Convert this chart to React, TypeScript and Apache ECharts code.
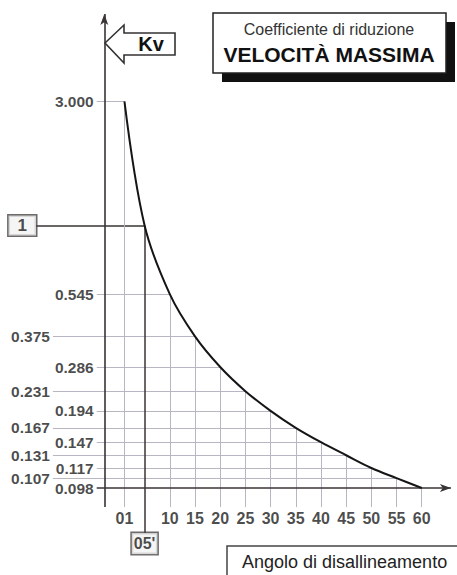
import React, { useEffect, useRef } from "react";
import * as echarts from "echarts";

// ---- data ----
const angles = [1, 5, 10, 15, 20, 25, 30, 35, 40, 45, 50, 55, 60];
const angleLabels = ["01", "05'", "10", "15", "20", "25", "30", "35", "40", "45", "50", "55", "60"];
const kv = [3.0, 1, 0.545, 0.375, 0.286, 0.231, 0.194, 0.167, 0.147, 0.131, 0.117, 0.107, 0.098];
const kvLabels = ["3.000", "1", "0.545", "0.375", "0.286", "0.231", "0.194", "0.167", "0.147", "0.131", "0.117", "0.107", "0.098"];
const kvColumn = ["right", "box", "right", "left", "right", "left", "right", "left", "right", "left", "right", "left", "right"];

// ---- axis extents (data units) ----
const X_MIN = -23.7;
const X_MAX = 67;
const Y_MIN = 0.0454;
const Y_MAX = 7.359;
const AXIS_X = -3; // where the vertical axis stands
const AXIS_Y_BOTTOM = 0.0828;
const AXIS_Y_TOP = 6.5;
const X_AXIS_START = -4.5;
const X_AXIS_END = 65.8;
const RIGHT_COL = -4.5;
const LEFT_COL = -13.2;
const BOX_COL = -16.55;
const TICK_BOX_TOP = 0.0658;

const NUM_FONT = '"Liberation Sans", Arial, sans-serif';
const TXT_FONT = '"Liberation Sans", Arial, sans-serif';

const lightStyle = { color: "#b8b6c2", width: 1, type: "solid" };
const darkStyle = { color: "#3a3434", width: 1.5, type: "solid" };
const axisStyle = { color: "#3a3434", width: 1.6, type: "solid" };

function buildOption() {
  const kvMin = kv[kv.length - 1];
  const lines: any[] = [];
  kv.forEach((v, i) => {
    if (i === kv.length - 1) return;
    const col = kvColumn[i];
    const startX = col === "left" ? LEFT_COL : col === "box" ? BOX_COL : RIGHT_COL;
    lines.push([
      { coord: [startX, v], lineStyle: col === "box" ? darkStyle : lightStyle },
      { coord: [angles[i], v] },
    ]);
  });
  angles.forEach((a, i) => {
    const isBox = angleLabels[i].endsWith("'");
    lines.push([
      { coord: [a, isBox ? TICK_BOX_TOP : AXIS_Y_BOTTOM], lineStyle: isBox ? darkStyle : lightStyle },
      { coord: [a, kv[i]] },
    ]);
  });
  lines.push([
    { coord: [AXIS_X, AXIS_Y_BOTTOM], lineStyle: axisStyle },
    { coord: [AXIS_X, AXIS_Y_TOP], symbol: "arrow", symbolSize: [6, 11] },
  ]);
  lines.push([
    { coord: [X_AXIS_START, kvMin], lineStyle: axisStyle },
    { coord: [X_AXIS_END, kvMin], symbol: "arrow", symbolSize: [6, 11] },
  ]);

  const boxLabel = {
    borderColor: "#4a4545",
    borderWidth: 1.5,
    backgroundColor: "#f3f3f3",
    lineHeight: 19,
  };
  const baseLabel = {
    show: true,
    fontFamily: NUM_FONT,
    fontWeight: "bold",
    fontSize: 15.5,
    color: "#1c1c1c",
  };

  const labelPoints: any[] = [];
  kv.forEach((v, i) => {
    const col = kvColumn[i];
    if (col === "box") {
      labelPoints.push({
        value: [BOX_COL, v],
        label: { ...baseLabel, ...boxLabel, fontSize: 17, position: "left", distance: 0, padding: [1, 9, 0, 9], formatter: kvLabels[i] },
      });
    } else {
      labelPoints.push({
        value: [col === "left" ? LEFT_COL : RIGHT_COL, v],
        label: { ...baseLabel, position: "left", distance: 3, formatter: kvLabels[i] },
      });
    }
  });
  angles.forEach((a, i) => {
    const isBox = angleLabels[i].endsWith("'");
    if (isBox) {
      labelPoints.push({
        value: [a, TICK_BOX_TOP],
        label: { ...baseLabel, ...boxLabel, fontSize: 16, position: "bottom", distance: 0, padding: [1, 2, 1, 2], formatter: angleLabels[i] },
      });
    } else {
      labelPoints.push({
        value: [a, AXIS_Y_BOTTOM],
        label: { ...baseLabel, fontSize: 16, lineHeight: 18, position: "bottom", distance: 2, formatter: angleLabels[i] },
      });
    }
  });

  return {
    animation: false,
    backgroundColor: "#ffffff",
    grid: { left: 0, right: 0, top: 0, bottom: 0 },
    xAxis: { type: "value", min: X_MIN, max: X_MAX, show: false },
    yAxis: { type: "log", min: Y_MIN, max: Y_MAX, show: false },
    series: [
      {
        type: "line",
        data: angles.map((a, i) => [a, kv[i]]),
        smooth: 0.35,
        symbol: "none",
        clip: false,
        z: 5,
        lineStyle: { color: "#151515", width: 2 },
        markLine: {
          silent: true,
          symbol: ["none", "none"],
          label: { show: false },
          animation: false,
          data: lines,
        },
      },
      {
        type: "scatter",
        symbolSize: 0,
        silent: true,
        z: 6,
        data: labelPoints,
      },
    ],
    graphic: [
      {
        type: "polygon",
        shape: { points: [[105, 43], [124, 25], [124, 33], [175, 33], [175, 55], [124, 55], [124, 63]] },
        style: { fill: "#ffffff", stroke: "#333", lineWidth: 1.6 },
      },
      {
        type: "text",
        x: 151,
        y: 44,
        style: {
          text: "Kv",
          fontSize: 20,
          fontWeight: "bold",
          fontFamily: TXT_FONT,
          fill: "#111",
          align: "center",
          verticalAlign: "middle",
          textAlign: "center",
          textVerticalAlign: "middle",
        },
      },
      {
        type: "rect",
        shape: { x: 222, y: 22, width: 233, height: 60 },
        style: { fill: "#111" },
      },
      {
        type: "rect",
        shape: { x: 213, y: 13, width: 233, height: 60 },
        style: { fill: "#ffffff", stroke: "#222", lineWidth: 1.5 },
      },
      {
        type: "text",
        x: 329,
        y: 29,
        style: {
          text: "Coefficiente di riduzione",
          fontSize: 16,
          fontFamily: TXT_FONT,
          fill: "#333",
          align: "center",
          verticalAlign: "middle",
          textAlign: "center",
          textVerticalAlign: "middle",
        },
      },
      {
        type: "text",
        x: 329,
        y: 54,
        style: {
          text: "VELOCITÀ MASSIMA",
          fontSize: 21,
          fontWeight: "bold",
          fontFamily: TXT_FONT,
          fill: "#111",
          align: "center",
          verticalAlign: "middle",
          textAlign: "center",
          textVerticalAlign: "middle",
        },
      },
      {
        type: "rect",
        shape: { x: 227, y: 546, width: 260, height: 40 },
        style: { fill: "#ffffff", stroke: "#444", lineWidth: 1.5 },
      },
      {
        type: "text",
        x: 242,
        y: 562,
        style: {
          text: "Angolo di disallineamento",
          fontSize: 18,
          fontFamily: TXT_FONT,
          fill: "#222",
          align: "left",
          verticalAlign: "middle",
          textAlign: "left",
          textVerticalAlign: "middle",
        },
      },
    ],
  };
}

export default function App() {
  const ref = useRef<HTMLDivElement>(null);
  useEffect(() => {
    const chart = echarts.init(ref.current!, null, { renderer: "svg" });
    chart.setOption(buildOption() as any);
    return () => chart.dispose();
  }, []);
  return (
    <div
      ref={ref}
      style={{ position: "absolute", left: 0, top: 0, width: 457, height: 575, background: "#fff" }}
    />
  );
}
